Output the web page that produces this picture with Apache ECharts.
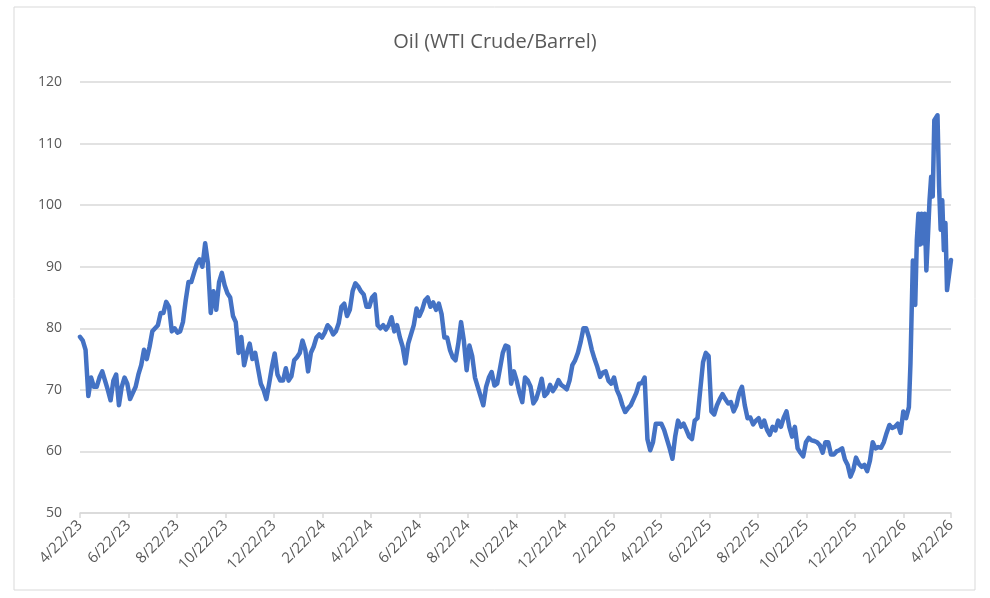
<!DOCTYPE html>
<html>
<head>
<meta charset="utf-8">
<title>Oil (WTI Crude/Barrel)</title>
<script src="https://cdn.jsdelivr.net/npm/echarts@6/dist/echarts.min.js"></script>
<style>
  html, body { margin: 0; padding: 0; background: #fff; }
  #main { width: 990px; height: 598px; }
</style>
</head>
<body>
<div id="main"></div>
<script>
// closes every 3.5 days (twice a week) from 4/22/23 to end of Feb 2026
var seriesStart = '2023-04-22';
var stepDays = 3.5;
var halfWeekPrices = [
    78.6, 78, 76.5, 69, 72, 70.5, 70.5, 72, 73, 71.5,
    70, 68.3, 71.5, 72.5, 67.5, 70.5, 72, 71, 68.5, 69.5,
    70.5, 72.5, 74, 76.5, 75, 77, 79.5, 80, 80.5, 82.5,
    82.5, 84.3, 83.5, 79.5, 80, 79.3, 79.5, 81, 84.5, 87.5,
    87.5, 89, 90.5, 91.2, 90, 93.8, 90.5, 82.5, 86, 83,
    87.5, 89, 87, 85.7, 85, 82, 81, 76, 78.6, 74,
    76, 77.5, 75, 76, 73.5, 71, 70, 68.5, 71, 73.7,
    75.9, 72.5, 71.5, 71.5, 73.5, 71.5, 72.2, 74.8, 75.3, 76,
    78, 76.5, 73, 76, 77, 78.5, 79, 78.5, 79.3, 80.5,
    80, 79, 79.5, 80.8, 83.5, 84, 82, 83, 86, 87.3,
    86.8, 86, 85.5, 83.5, 83.5, 85, 85.5, 80.5, 80, 80.5,
    79.8, 80.5, 81.8, 79.5, 80.5, 78.5, 77, 74.3, 77.5, 79,
    80.5, 83.2, 82, 83, 84.5, 85, 83.5, 84.2, 83, 84,
    82.3, 78.5, 78.5, 76.5, 75.3, 74.8, 77.5, 81, 78, 73.2,
    77.2, 75.5, 72, 70.5, 69, 67.5, 70.5, 72, 72.9, 70.7,
    71, 73.5, 76, 77.2, 77, 71, 73, 71.5, 69.5, 68,
    72, 71.5, 70.5, 67.8, 68.5, 70, 71.8, 69, 69.5, 70.8,
    69.8, 70.5, 71.6, 70.8, 70.5, 70.1, 71.5, 74, 74.8, 76,
    77.8, 80, 80, 78.5, 76.5, 75, 73.7, 72.1, 72.8, 73,
    71.5, 71, 72, 70, 69, 67.5, 66.4, 67, 67.5, 68.5,
    69.5, 71, 71.1, 72, 62, 60.2, 61.5, 64.5, 64.5, 64.5,
    63.5, 62, 60.5, 58.8, 62.5, 65, 64, 64.5, 63.5, 62.4,
    62, 65, 65.4, 70, 74.5, 76, 75.5, 66.5, 66, 67.5,
    68.5, 69.3, 68.5, 67.8, 68, 66.5, 67.5, 69.5, 70.5, 67.5,
    65.4, 65.5, 64.4, 65, 65.4, 64, 65, 63.5, 62.7, 64,
    63.4, 65, 64, 65.5, 66.5, 64, 62.4, 64, 60.5, 59.8,
    59.2, 61.5, 62.2, 61.8, 61.7, 61.5, 61, 59.8, 61.5, 61.5,
    59.5, 59.5, 60, 60.2, 60.5, 58.7, 57.8, 55.9, 57, 59,
    58, 57.5, 57.8, 56.8, 58.5, 61.5, 60.5, 60.7, 60.6, 61.5,
    63, 64.3, 63.8, 64, 64.5, 63, 66.5, 65.4, 67.2
];

// the March-April 2026 spike, read closer
var spikeDates = [
    '2026-03-02', '2026-03-05', '2026-03-08', '2026-03-10', '2026-03-12',
    '2026-03-14', '2026-03-16', '2026-03-18', '2026-03-20', '2026-03-22',
    '2026-03-24', '2026-03-26', '2026-03-28', '2026-03-30', '2026-04-01',
    '2026-04-03', '2026-04-05', '2026-04-07', '2026-04-09', '2026-04-11',
    '2026-04-13', '2026-04-15', '2026-04-17', '2026-04-19', '2026-04-22'
];
var spikePrices = [
    74.3, 91, 83.8, 94.3, 98.6,
    93.6, 98.6, 93.8, 98.6, 89.4,
    95, 100.8, 104.6, 101.4, 113.8,
    114.2, 114.6, 103, 96, 100.8,
    92.7, 97.1, 86.2, 86.2, 91.1
];

var tickDates = [
    '2023-04-22', '2023-06-22', '2023-08-22', '2023-10-22', '2023-12-22',
    '2024-02-22', '2024-04-22', '2024-06-22', '2024-08-22', '2024-10-22',
    '2024-12-22', '2025-02-22', '2025-04-22', '2025-06-22', '2025-08-22',
    '2025-10-22', '2025-12-22', '2026-02-22', '2026-04-22'
];

var yMin = 50, yMax = 120, yStep = 10;

function ts(s) {
    var p = s.split('-');
    return Date.UTC(+p[0], +p[1] - 1, +p[2]);
}

function buildSeries() {
    var out = [];
    var t0 = ts(seriesStart);
    for (var i = 0; i < halfWeekPrices.length; i++) {
        out.push([t0 + i * stepDays * 86400000, halfWeekPrices[i]]);
    }
    for (var j = 0; j < spikeDates.length; j++) {
        out.push([ts(spikeDates[j]), spikePrices[j]]);
    }
    return out;
}

function fmtDate(v) {
    var d = new Date(v);
    return (d.getUTCMonth() + 1) + '/' + d.getUTCDate() + '/' + String(d.getUTCFullYear()).slice(2);
}

var ticks = tickDates.map(ts);

var myChart = echarts.init(document.getElementById('main'));
var option = {
    animation: false,
    backgroundColor: '#fff',
    title: {
        text: 'Oil (WTI Crude/Barrel)',
        left: 'center',
        top: 27,
        textStyle: {
            color: '#595959',
            fontSize: 20,
            fontWeight: 'normal',
            fontFamily: 'Open Sans'
        }
    },
    graphic: [{
        type: 'rect',
        shape: { x: 14, y: 7, width: 961, height: 583 },
        style: { fill: 'none', stroke: '#d9d9d9', lineWidth: 1 },
        silent: true
    }],
    grid: {
        left: 80,
        right: 39,
        top: 82,
        bottom: 85
    },
    xAxis: {
        type: 'value',
        min: ticks[0],
        max: ticks[ticks.length - 1],
        axisLine: { lineStyle: { color: '#d9d9d9', width: 1.5 } },
        axisTick: {
            show: true,
            customValues: ticks,
            length: 5,
            lineStyle: { color: '#d9d9d9', width: 1.5 }
        },
        axisLabel: {
            customValues: ticks,
            rotate: 45,
            color: '#595959',
            fontSize: 15,
            fontFamily: 'Open Sans',
            margin: 10,
            showMinLabel: true,
            showMaxLabel: true,
            hideOverlap: false,
            formatter: function (v) { return fmtDate(v); }
        },
        splitLine: { show: false }
    },
    yAxis: {
        type: 'value',
        min: yMin,
        max: yMax,
        interval: yStep,
        axisLine: { show: false },
        axisTick: { show: false },
        axisLabel: {
            color: '#595959',
            fontSize: 14,
            fontFamily: 'Open Sans',
            margin: 18
        },
        splitLine: { lineStyle: { color: '#d9d9d9', width: 1.5 } }
    },
    series: [{
        name: 'WTI',
        type: 'line',
        data: buildSeries(),
        showSymbol: false,
        symbol: 'none',
        lineStyle: { color: '#4472C4', width: 4.5, join: 'round', cap: 'round' },
        itemStyle: { color: '#4472C4' }
    }]
};
myChart.setOption(option);
</script>
</body>
</html>
